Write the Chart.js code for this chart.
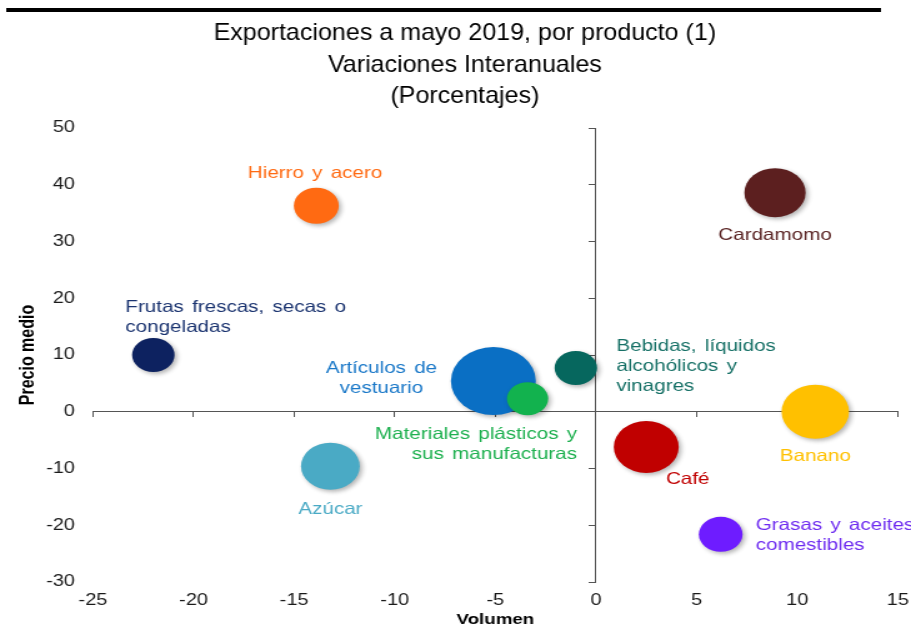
<!DOCTYPE html>
<html lang="es">
<head>
<meta charset="utf-8">
<title>Exportaciones a mayo 2019, por producto</title>
<script src="https://cdn.jsdelivr.net/npm/chart.js@4.4.1/dist/chart.umd.min.js"></script>
<style>
  html, body { margin: 0; padding: 0; background: #ffffff; }
</style>
</head>
<body>
<!-- the bitmap is 729 px wide and is shown 911 px wide, giving the wide look of the original -->
<canvas id="grafico" width="729" height="630" style="display:block;width:911px;height:630px;"></canvas>
<script>
// Exportaciones por producto, variaciones interanuales (%)
const productos = [
  'Hierro y acero', 'Cardamomo', 'Frutas frescas, secas o congeladas',
  'Artículos de vestuario', 'Materiales plásticos y sus manufacturas',
  'Bebidas, líquidos alcohólicos y vinagres', 'Azúcar', 'Café', 'Banano',
  'Grasas y aceites comestibles'
];
const volumen     = [-13.9, 8.9, -22.0, -5.1, -3.4, -1.0, -13.2, 2.5, 10.9, 6.2];
const precioMedio = [36.3, 38.6, 10.0, 5.4, 2.3, 7.7, -9.6, -6.2, 0.0, -21.6];
const peso        = [18, 24.5, 17, 34, 16.5, 17, 23.5, 26, 27, 17.5];   // bubble radius

// text of each bubble label, one entry per line
const etiquetas = [
  ['Hierro y acero'],
  ['Cardamomo'],
  ['Frutas frescas, secas o', 'congeladas'],
  ['Artículos de', 'vestuario'],
  ['Materiales plásticos y', 'sus manufacturas'],
  ['Bebidas, líquidos', 'alcohólicos y', 'vinagres'],
  ['Azúcar'],
  ['Café'],
  ['Banano'],
  ['Grasas y aceites', 'comestibles']
];
const titulo = ['Exportaciones a mayo 2019, por producto (1)', 'Variaciones Interanuales', '(Porcentajes)'];

// colours
const colores = ['#FF6A12', '#5C1F1F', '#0D2260', '#0A6FC4', '#12B24E', '#06675E',
                 '#4AAAC5', '#C00000', '#FFC000', '#6E1CFF'];
const coloresTexto = ['#FF6A12', '#5A2424', '#1B3470', '#1A78C8', '#1DB04F', '#167066',
                      '#4AAAC5', '#C00000', '#FFC000', '#6E2CF0'];

// label placement relative to its bubble (bitmap px): first line offset and alignment
const posEtiqueta = [
  { dx: -1,    dy: -32,   align: 'center' },
  { dx: 0,     dy: 43,    align: 'center' },
  { dx: -22.4, dy: -48,   align: 'left' },
  { dx: -89.6, dy: -13,   align: 'center' },
  { dx: 39.6,  dy: 35.5,  align: 'right' },
  { dx: 32.4,  dy: -21.5, align: 'left' },
  { dx: 0,     dy: 43,    align: 'center' },
  { dx: 33.2,  dy: 32.5,  align: 'center' },
  { dx: 0,     dy: 44.5,  align: 'center' },
  { dx: 28,    dy: -9,    align: 'left' }
];
const interlineado = 20;

const familia = '"Liberation Sans", Arial, sans-serif';
Chart.defaults.font.family = familia;

// title in a condensed setting (narrow sans)
const tituloCentro = 372;
const tituloBases = [40, 72, 103];
const tituloCompresion = 0.835;

const decoracion = {
  id: 'decoracion',
  beforeDraw(chart) {
    const ctx = chart.ctx;
    ctx.save();
    ctx.fillStyle = '#000000';
    ctx.fillRect(5, 8, 700, 4);
    ctx.font = '24px ' + familia;
    ctx.textAlign = 'center';
    ctx.textBaseline = 'alphabetic';
    titulo.forEach((linea, i) => {
      ctx.save();
      ctx.translate(tituloCentro, tituloBases[i]);
      ctx.scale(tituloCompresion, 1);
      ctx.fillText(linea, 0, 0);
      ctx.restore();
    });
    ctx.restore();
  },
  beforeDatasetsDraw(chart) {
    const ctx = chart.ctx;
    ctx.save();
    ctx.shadowColor = 'rgba(0,0,0,0.30)';
    ctx.shadowBlur = 4;
    ctx.shadowOffsetX = 2;
    ctx.shadowOffsetY = 2;
  },
  afterDatasetsDraw(chart) {
    const ctx = chart.ctx;
    ctx.restore();
    const meta = chart.getDatasetMeta(0);
    ctx.save();
    ctx.font = '16.5px ' + familia;
    ctx.wordSpacing = '2px';
    ctx.textBaseline = 'middle';
    meta.data.forEach((el, i) => {
      const p = posEtiqueta[i];
      ctx.fillStyle = coloresTexto[i];
      ctx.textAlign = p.align;
      etiquetas[i].forEach((linea, j) => {
        ctx.fillText(linea, el.x + p.dx, el.y + p.dy + j * interlineado);
      });
    });
    ctx.restore();
  }
};

const ejeCruce = {
  grid: { display: true, drawOnChartArea: false, drawTicks: true, tickLength: 5, color: '#555555', lineWidth: 1 },
  border: { display: true, color: '#555555', width: 1 }
};

new Chart(document.getElementById('grafico'), {
  type: 'bubble',
  data: {
    datasets: [{
      label: 'Productos',
      data: volumen.map((v, i) => ({ x: v, y: precioMedio[i], r: peso[i] })),
      backgroundColor: colores,
      borderWidth: 0,
      hoverRadius: 0
    }]
  },
  options: {
    responsive: false,
    devicePixelRatio: 1,
    animation: false,
    events: [],
    layout: { autoPadding: false, padding: { left: 25.6, right: 10.6, top: 128, bottom: 0 } },
    plugins: {
      legend: { display: false },
      tooltip: { enabled: false },
      title: { display: false }
    },
    scales: {
      x: {
        type: 'linear', position: 'bottom', min: -25, max: 15,
        ticks: { stepSize: 5, color: '#1a1a1a', font: { size: 16 }, padding: 0 },
        grid: { display: false, drawTicks: true, tickLength: 9 },
        border: { display: false },
        title: { display: true, text: 'Volumen', color: '#000000', font: { size: 15, weight: 'bold' }, padding: { top: 0, bottom: 1 } },
        afterFit(s) { s.height = 48; }
      },
      y: {
        type: 'linear', position: 'left', min: -30, max: 50,
        ticks: { stepSize: 10, color: '#1a1a1a', font: { size: 16 }, padding: 0 },
        grid: { display: false, drawTicks: true, tickLength: 14.4 },
        border: { display: false },
        title: { display: true, text: 'Precio medio', color: '#000000', font: { size: 16, weight: 'bold' }, padding: { top: -12.8, bottom: 0 } },
        afterFit(s) { s.width = 48.8; }
      },
      x0: Object.assign({ type: 'linear', axis: 'x', position: { y: 0 }, min: -25, max: 15,
        ticks: { display: false, stepSize: 5 } }, ejeCruce),
      y0: Object.assign({ type: 'linear', axis: 'y', position: { x: 0 }, min: -30, max: 50,
        ticks: { display: false, stepSize: 10 } }, ejeCruce)
    }
  },
  plugins: [decoracion]
});
</script>
</body>
</html>
